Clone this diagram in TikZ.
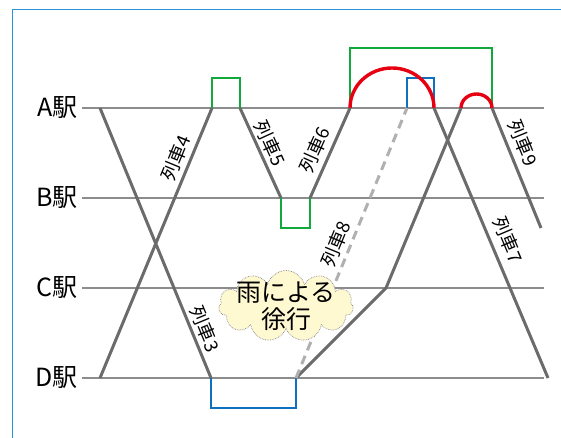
\documentclass[tikz,border=0pt]{standalone}
\usepackage{fontspec}
\setmainfont{Noto Sans CJK JP}
\usetikzlibrary{shapes.symbols}
\definecolor{frameblue}{HTML}{2A90D8}
\definecolor{stgray}{HTML}{8C8C8C}
\definecolor{trgray}{HTML}{6B6B6B}
\definecolor{dashgray}{HTML}{B0B0B0}
\definecolor{grn}{HTML}{12A83C}
\definecolor{redc}{HTML}{E60012}
\definecolor{bluc}{HTML}{1070C0}
\definecolor{cream}{HTML}{FFF9D2}
\begin{document}
\begin{tikzpicture}[x=1pt,y=-1pt,
  station/.style={draw=stgray,line width=1.4pt},
  stlabel/.style={anchor=east,font=\fontsize{25}{28}\selectfont,inner sep=0pt},
  train/.style={draw=trgray,line width=3pt},
  trlabel/.style={font=\fontsize{18.5}{20}\selectfont,inner sep=0pt},
  waitg/.style={draw=grn,line width=2.4pt},
  waitb/.style={draw=bluc,line width=2.4pt},
  waitr/.style={draw=redc,line width=3.4pt},
  delayed/.style={draw=dashgray,line width=3pt,dash pattern=on 9pt off 6pt}]
\useasboundingbox (0,0) rectangle (561,438);
\draw[frameblue,line width=1.2pt] (12.5,438) -- (12.5,9.5) -- (561,9.5);
% stations
\foreach \n/\y in {A/108,B/198,C/288,D/378}{
  \coordinate (s\n l) at (82,\y);
  \coordinate (s\n r) at (544,\y);
  \draw[station] (s\n l) -- (s\n r);
  \node[stlabel] (lab\n) at (78,\y) {\n 駅};
}
% key points
\coordinate (a1) at (100,108);
\coordinate (d1) at (211,378);
\coordinate (d0) at (100,378);
\coordinate (a2) at (212,108);
\coordinate (a3) at (240,108);
\coordinate (b1) at (281,198);
\coordinate (b2) at (310,198);
\coordinate (a4) at (350,108);
\coordinate (a5) at (407,108);
\coordinate (a6) at (434,108);
\coordinate (a7) at (461,108);
\coordinate (a8) at (492,108);
\coordinate (d2) at (296,378);
\coordinate (c1) at (386,288);
\coordinate (d3) at (548,378);
\coordinate (e9) at (541,228);
% waiting boxes
\draw[waitg] (a2) -- ++(0,-30) -| (a3);
\draw[waitg] (b1) -- ++(0,30) -| (b2);
\draw[waitg] (a4) -- ++(0,-60) -| (a8);
\draw[waitb] (a5) -- ++(0,-30) -| (a6);
\draw[waitb] (d1) -- ++(0,30) -| (d2);
\draw[waitr] (a4) arc[start angle=180,end angle=0,x radius=42pt,y radius=40pt];
\draw[waitr] (a7) arc[start angle=180,end angle=0,x radius=15.5pt,y radius=14pt];
% trains
\draw[train] (a1) -- (d1);
\draw[train] (d0) -- (a2);
\draw[train] (a3) -- (b1);
\draw[train] (b2) -- (a4);
\draw[train] (a6) -- (d3);
\draw[train] (a8) -- (e9);
\draw[train,line join=miter] (d2) -- (c1) -- (a7);
\draw[delayed] (d2) -- (a5);
% labels
\node[trlabel,rotate=67.6] (t4) at (176,158) {列車4};
\node[trlabel,rotate=-65.5] (t5) at (270,143) {列車5};
\node[trlabel,rotate=66] (t6) at (315,150) {列車6};
\node[trlabel,rotate=-67.8] (t9) at (523,143) {列車9};
\node[trlabel,rotate=-67.1] (t7) at (508,240) {列車7};
\node[trlabel,rotate=67.6] (t8) at (336,244) {列車8};
\node[trlabel,rotate=-67.6] (t3) at (205,329) {列車3};
% cloud
\node[cloud,cloud puffs=11,cloud ignores aspect,fill=cream,draw=gray,line width=0.7pt,densely dotted,
  minimum width=135pt,minimum height=71pt,inner sep=0pt] (rain) at (286,306) {};
\node[align=center,inner sep=0pt,font=\fontsize{25}{27}\selectfont] (raintext) at (rain.center) {雨による\\徐行};
\end{tikzpicture}
\end{document}
